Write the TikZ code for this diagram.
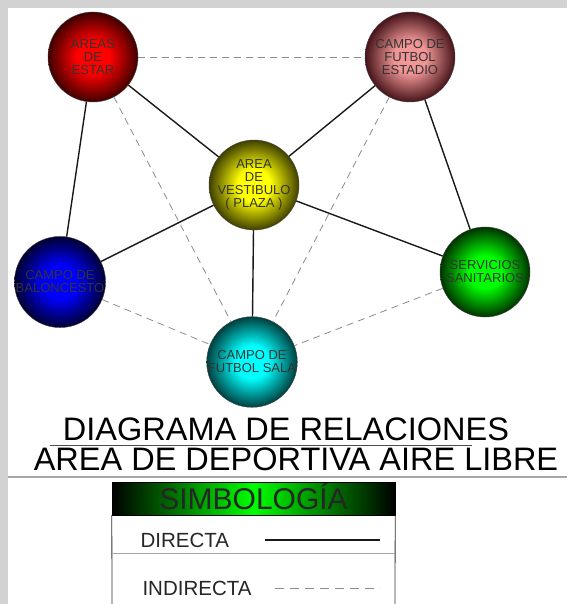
\documentclass[tikz,border=0pt]{standalone}
\usepackage{fontspec}
\setmainfont{Liberation Sans}
\usetikzlibrary{positioning}

\definecolor{rosaclaro}{RGB}{240,150,150}
\definecolor{rosaoscuro}{RGB}{70,20,25}
\colorlet{centro}{red}
\colorlet{borde}{black}
\pgfdeclareradialshading[centro,borde]{esfera}{\pgfpoint{0bp}{0bp}}%
  {color(0bp)=(centro); color(9bp)=(centro); color(25bp)=(borde); color(50bp)=(borde)}

\begin{document}
\begin{tikzpicture}[x=1pt,y=-1pt,
  esfera/.style 2 args={circle,draw=black!75,minimum size=90pt,inner sep=0pt,
    align=center,text=black!80,font=\fontsize{13}{13}\selectfont,
    /utils/exec={\colorlet{centro}{#1}\colorlet{borde}{#2}},shading=esfera},
  directa/.style={draw=black!90,line width=1.4pt},
  indirecta/.style={draw=black!45,line width=0.8pt,dash pattern=on 7pt off 5pt},
  leyenda/.style={anchor=base west,text=black!85,font=\fontsize{20.5}{22}\selectfont}]
  \useasboundingbox (0,0) rectangle (567,604);
  % marco
  \fill[gray!35] (0,0) rectangle (567,604);
  \fill[white] (8,8) rectangle (567,604);

  % esferas
  \node[esfera={red}{red!25!black}] (estar) at (93,57)
    {AREAS\\DE\\ESTAR};
  \node[esfera={rosaclaro}{rosaoscuro}] (estadio) at (410,57)
    {CAMPO DE\\FUTBOL\\ESTADIO};
  \node[esfera={yellow}{yellow!25!black}] (vestibulo) at (254,185)
    {AREA\\DE\\VESTIBULO\\( PLAZA )};
  \node[esfera={blue}{blue!20!black}] (baloncesto) at (60,282)
    {CAMPO DE\\BALONCESTO};
  \node[esfera={green}{green!20!black}] (sanitarios) at (485,272)
    {SERVICIOS\\SANITARIOS};
  \node[esfera={cyan}{cyan!25!black}] (sala) at (252,362)
    {CAMPO DE\\FUTBOL SALA};

  % relaciones directas
  \draw[directa] (estar) -- (vestibulo);
  \draw[directa] (estar) -- (baloncesto);
  \draw[directa] (estadio) -- (vestibulo);
  \draw[directa] (estadio) -- (sanitarios);
  \draw[directa] (vestibulo) -- (baloncesto);
  \draw[directa] (vestibulo) -- (sanitarios);
  \draw[directa] (vestibulo) -- (sala);
  % relaciones indirectas
  \draw[indirecta] (estar) -- (estadio);
  \draw[indirecta] (estar) -- (sala);
  \draw[indirecta] (estadio) -- (sala);
  \draw[indirecta] (baloncesto) -- (sala);
  \draw[indirecta] (sanitarios) -- (sala);

  % titulo
  \node[anchor=base,font=\fontsize{32.5}{34}\selectfont] (titulo) at (286,440)
    {DIAGRAMA DE RELACIONES};
  \draw[black!70,line width=0.8pt] (50,445) -- (472,445);
  \node[anchor=base,font=\fontsize{32.5}{34}\selectfont] (subtitulo) at (296,470)
    {AREA DE DEPORTIVA AIRE LIBRE};
  \draw[gray!70,line width=1.5pt] (8,477) -- (567,477);

  % simbologia
  \node[draw=black,minimum width=283pt,minimum height=33pt,inner sep=0pt,
        text height=21.5pt,text depth=0pt,
        left color=black,right color=black,middle color=green,
        text=black!85,font=\fontsize{30}{30}\selectfont] (simbologia)
    at (253.5,498.5) {SIMBOLOGÍA};
  \draw[black!80,line width=0.8pt] (simbologia.south west) -- (112,604);
  \draw[black!80,line width=0.8pt] (simbologia.south east) -- (395,604);
  \draw[gray!70,line width=0.8pt] (112,553) -- (395,553);
  \node[leyenda] (tdirecta) at (137,547) {DIRECTA};
  \node[leyenda] (tindirecta) at (139,595) {INDIRECTA};
  \coordinate (d1) at (265,540);
  \coordinate (d2) at (380,540);
  \coordinate (i1) at (275,588);
  \coordinate (i2) at (380,588);
  \draw[directa] (d1) -- (d2);
  \draw[indirecta,dash pattern=on 9pt off 6pt] (i1) -- (i2);
\end{tikzpicture}
\end{document}
